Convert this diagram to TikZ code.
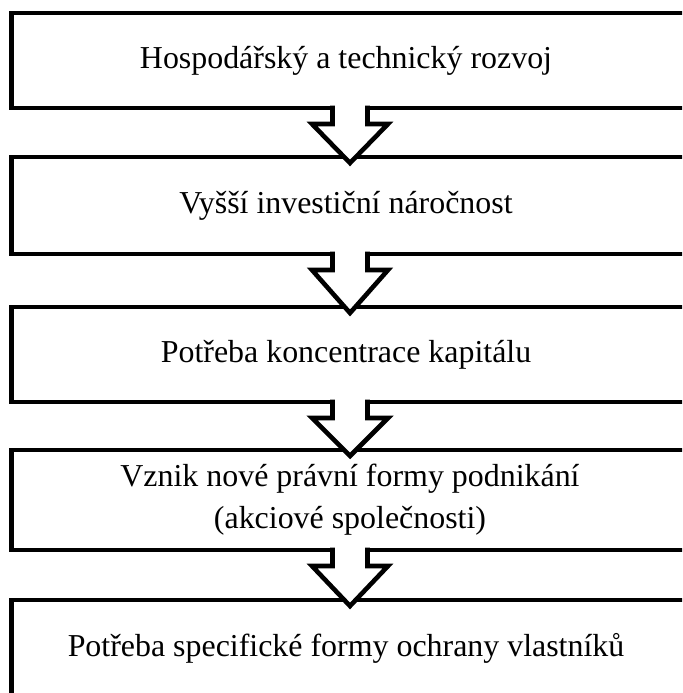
\documentclass[tikz,border=0pt]{standalone}
\usepackage{fontspec}
\setmainfont{Liberation Serif}
\usetikzlibrary{calc}

\begin{document}
\begin{tikzpicture}[
    box/.style={draw, rectangle, line width=0.115cm, minimum width=16.925000cm, inner sep=0pt, outer sep=0pt, align=center},
    blockarrow/.style={draw, fill=white, line width=0.115cm}]
                    \useasboundingbox (0,0) rectangle (17.050000,17.325000);
                    \clip (0,0) rectangle (17.050000,17.325000);
                    {\fontsize{22.7}{30}\selectfont

                    % Drawing box hosp
                    \draw (8.750000,15.812500) node [box, minimum height=2.375000cm] (hosp) { Hospodářský a technický rozvoj };%

                    % Drawing box vyssi
                    \draw (8.750000,12.187500) node [box, minimum height=2.425000cm] (vyssi) { Vyšší investiční náročnost };%

                    % Drawing box potreba
                    \draw (8.750000,8.462500) node [box, minimum height=2.375000cm] (potreba) { Potřeba koncentrace kapitálu };%

                    % Drawing box vznik
                    \draw (8.750000,4.825000) node [box, minimum height=2.500000cm] (vznik) { Vznik nové právní formy podnikání\\(akciové společnosti) };%

                    % Drawing box ochrana
                    \draw (8.750000,1.125000) node [box, minimum height=2.400000cm] (ochrana) { Potřeba specifické formy ochrany vlastníků };%

                    % Drawing arrow hosp vyssi
                    \draw [blockarrow] ($(hosp.south)+(-0.437500,0.057500)$) -- ($(hosp.south)+(-0.437500,-0.400000)$) -- ($(hosp.south)+(-0.950000,-0.400000)$) -- ($(vyssi.north)+(0.000000,-0.150000)$) -- ($(hosp.south)+(0.950000,-0.400000)$) -- ($(hosp.south)+(0.437500,-0.400000)$) -- ($(hosp.south)+(0.437500,0.057500)$);%

                    % Drawing arrow vyssi potreba
                    \draw [blockarrow] ($(vyssi.south)+(-0.437500,0.057500)$) -- ($(vyssi.south)+(-0.437500,-0.400000)$) -- ($(vyssi.south)+(-0.950000,-0.400000)$) -- ($(potreba.north)+(0.000000,-0.150000)$) -- ($(vyssi.south)+(0.950000,-0.400000)$) -- ($(vyssi.south)+(0.437500,-0.400000)$) -- ($(vyssi.south)+(0.437500,0.057500)$);%

                    % Drawing arrow potreba vznik
                    \draw [blockarrow] ($(potreba.south)+(-0.437500,0.057500)$) -- ($(potreba.south)+(-0.437500,-0.400000)$) -- ($(potreba.south)+(-0.950000,-0.400000)$) -- ($(vznik.north)+(0.000000,-0.150000)$) -- ($(potreba.south)+(0.950000,-0.400000)$) -- ($(potreba.south)+(0.437500,-0.400000)$) -- ($(potreba.south)+(0.437500,0.057500)$);%

                    % Drawing arrow vznik ochrana
                    \draw [blockarrow] ($(vznik.south)+(-0.437500,0.057500)$) -- ($(vznik.south)+(-0.437500,-0.400000)$) -- ($(vznik.south)+(-0.950000,-0.400000)$) -- ($(ochrana.north)+(0.000000,-0.150000)$) -- ($(vznik.south)+(0.950000,-0.400000)$) -- ($(vznik.south)+(0.437500,-0.400000)$) -- ($(vznik.south)+(0.437500,0.057500)$);%
                    }
\end{tikzpicture}
\end{document}
